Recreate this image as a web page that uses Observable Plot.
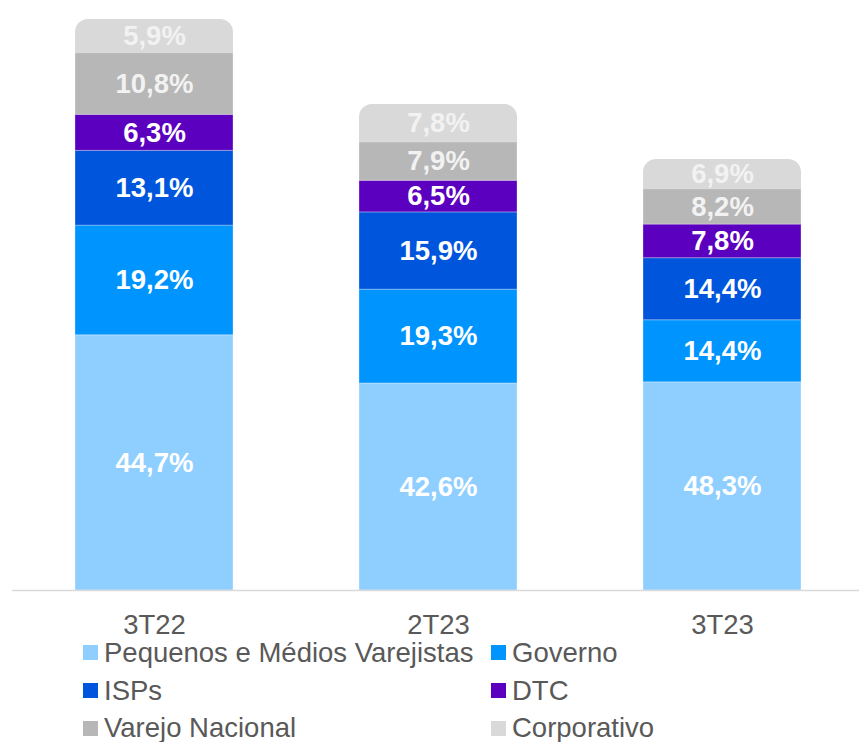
<!DOCTYPE html>
<html>
<head>
<meta charset="utf-8">
<script src="https://cdn.jsdelivr.net/npm/d3@7"></script>
<script src="https://cdn.jsdelivr.net/npm/@observablehq/plot@0.6"></script>
<style>
  body { margin: 0; background: #fff; font-family: "Liberation Sans", Arial, sans-serif; }
  #wrap { position: relative; width: 859px; height: 742px; }
  #legend { position: absolute; left: 0; top: 634px; width: 859px; }
  .item { position: absolute; display: flex; align-items: center; height: 37.7px; font-size: 27.5px; color: #595959; white-space: nowrap; }
  .sw { width: 15px; height: 15px; margin-right: 6px; flex: none; }
</style>
</head>
<body>
<div id="wrap"><div id="chart"></div><div id="legend"></div></div>
<script>
// Quarters and relative bar heights
const quarters = ["3T22", "2T23", "3T23"];
const totals = [571, 486, 431];

// Series (bottom to top) and their shares in %
const series = ["Pequenos e Médios Varejistas", "Governo", "ISPs", "DTC", "Varejo Nacional", "Corporativo"];
const colors = ["#8FCFFF", "#0094FF", "#0055DD", "#5B00BF", "#B7B7B7", "#D9D9D9"];
const labelColors = ["#FFFFFF", "#FFFFFF", "#FFFFFF", "#FFFFFF", "#F2F2F2", "#F2F2F2"];
const pequenos = [44.7, 42.6, 48.3];
const governo = [19.2, 19.3, 14.4];
const isps = [13.1, 15.9, 14.4];
const dtc = [6.3, 6.5, 7.8];
const varejo = [10.8, 7.9, 8.2];
const corporativo = [5.9, 7.8, 6.9];
const shares = [pequenos, governo, isps, dtc, varejo, corporativo];

const data = [];
series.forEach((s, si) => {
  quarters.forEach((q, qi) => {
    data.push({quarter: q, segment: s, pct: shares[si][qi], value: totals[qi] * shares[si][qi] / 100, lc: labelColors[si]});
  });
});
const barTotals = quarters.map(q => ({quarter: q, total: d3.sum(data.filter(d => d.quarter === q), d => d.value)}));
const fmt = v => v.toFixed(1).replace(".", ",") + "%";

const chart = Plot.plot({
  width: 859,
  height: 640,
  marginLeft: 12,
  marginRight: 0,
  marginTop: 0,
  marginBottom: 50,
  style: {fontFamily: "'Liberation Sans', Arial, sans-serif", fontSize: "27.5px", background: "white"},
  x: {domain: quarters, paddingInner: 0.4437, paddingOuter: 0.213, align: 0.52, label: null},
  y: {domain: [0, 590], axis: null},
  color: {domain: series, range: colors},
  marks: [
    Plot.barY(barTotals, {x: "quarter", y: "total", fill: colors[5], rx: 13}),
    Plot.barY(data.filter(d => d.segment !== series[5]), Plot.stackY({x: "quarter", y: "value", z: "segment", fill: "segment", stroke: "white", strokeOpacity: 0.3, strokeWidth: 1})),
    Plot.ruleY([0], {stroke: "#D9D9D9", strokeWidth: 1.5}),
    Plot.text(data, Plot.stackY({x: "quarter", y: "value", z: "segment", text: d => fmt(d.pct), fill: "lc", fontWeight: "bold", fontSize: 27.5})),
    Plot.axisX({tickSize: 0, tickPadding: 23.5, fill: "#595959", fontSize: 27.5, label: null})
  ]
});
document.getElementById("chart").appendChild(chart);

const legend = document.getElementById("legend");
const colX = [83, 491];
series.forEach((s, i) => {
  const el = document.createElement("div");
  el.className = "item";
  el.style.left = colX[i % 2] + "px";
  el.style.top = (Math.floor(i / 2) * 37.7) + "px";
  el.innerHTML = `<span class="sw" style="background:${colors[i]}"></span><span>${s}</span>`;
  legend.appendChild(el);
});
</script>
</body>
</html>
